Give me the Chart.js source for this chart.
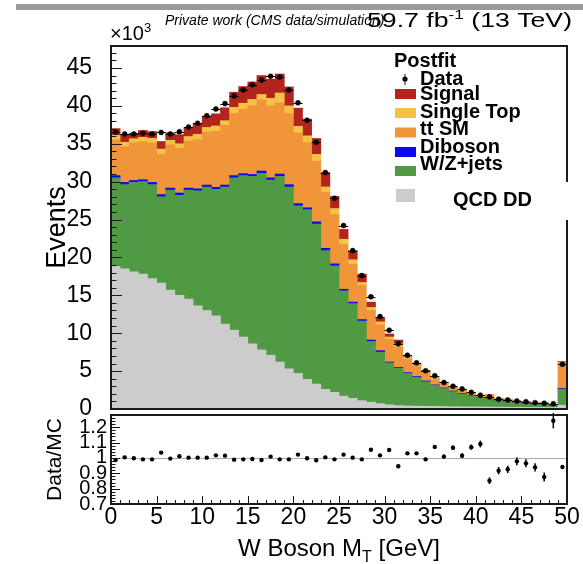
<!DOCTYPE html>
<html>
<head>
<meta charset="utf-8">
<script src="https://cdn.jsdelivr.net/npm/chart.js@4.4.1/dist/chart.umd.min.js"></script>
<style>
  body { margin: 0; background: #fff; }
  #wrap { position: relative; width: 583px; height: 564px; overflow: hidden; background: #fff; }
  #topbar { position: absolute; left: 16px; top: 4px; width: 567px; height: 6px; background: #9a9a9a; }
  #mainCanvas { position: absolute; left: 0; top: 0; }
  #ratioCanvas { position: absolute; left: 0; top: 411px; }
</style>
</head>
<body>
<div id="wrap">
  <div id="topbar"></div>
  <canvas id="mainCanvas" width="583" height="430"></canvas>
  <canvas id="ratioCanvas" width="583" height="153"></canvas>
</div>
<script>
// bins of W boson MT (GeV), last one is the overflow bin
const bins = [0,1,2,3,4,5,6,7,8,9,10,11,12,13,14,15,16,17,18,19,20,21,22,23,24,
              25,26,27,28,29,30,31,32,33,34,35,36,37,38,39,40,41,42,43,44,45,46,47,48,49];

// stacked backgrounds, in thousands of events
const qcd = [18.8,18.5,18.1,17.8,17.2,16.6,15.7,15.0,14.5,13.6,13.0,12.3,11.2,10.4,9.5,8.6,7.8,7.1,6.2,5.3,
             4.7,3.9,3.3,2.6,2.2,1.7,1.4,1.1,0.9,0.7,0.55,0.45,0.4,0.38,0.36,0.34,0.32,0.3,0.3,0.28,
             0.27,0.26,0.25,0.24,0.23,0.22,0.21,0.2,0.2,0.5];
const wzjets = [11.7,11.1,11.8,12.2,12.4,11.4,13.2,13.2,14.4,15.2,16.3,16.7,18.1,20.1,21.3,22.1,23.3,23.1,24.5,24.0,
                22.1,22.4,21.1,18.3,16.7,13.9,12.5,10.5,8.0,6.8,5.55,4.95,4.3,3.82,3.24,2.76,2.38,2.0,1.7,1.42,
                1.18,0.99,0.8,0.66,0.55,0.46,0.37,0.3,0.22,2.1];
const diboson = [0.3,0.3,0.25,0.25,0.3,0.3,0.25,0.3,0.25,0.25,0.25,0.25,0.25,0.3,0.25,0.25,0.3,0.3,0.3,0.3,
                 0.3,0.25,0.3,0.3,0.25,0.2,0.2,0.2,0.2,0.2,0.1,0.1,0.1,0.1,0.1,0.08,0.08,0.07,0.07,0.06,
                 0.05,0.05,0.05,0.04,0.04,0.04,0.04,0.04,0.03,0.1];
const ttbar = [4.7,4.7,5.0,5.0,5.2,5.3,5.7,5.9,6.2,6.5,7.0,7.4,7.9,8.2,8.5,9.1,9.4,9.5,9.4,9.4,
               9.3,8.6,8.0,7.4,6.5,5.9,5.0,4.5,3.9,3.4,3.0,2.7,1.8,1.4,1.15,0.75,0.55,0.35,0.45,0.24,
               0.14,0.5,0.27,0.32,0.22,0.25,0.24,0.29,0.09,3.4];
const singleTop = [0.6,0.6,0.5,0.6,0.6,0.7,0.6,0.6,0.6,0.7,0.6,0.7,0.6,0.8,0.8,0.8,0.7,1.0,1.3,1.0,
                   0.9,0.9,0.9,0.7,0.8,0.7,0.6,0.4,0.4,0.4,0.3,0.4,0.2,0.15,0.15,0.1,0.08,0.05,0.05,0.03,
                   0.02,0.05,0.03,0.03,0.02,0.02,0.02,0.02,0.01,0.1];
const signal = [0.9,0.95,0.75,0.9,0.9,1.0,1.0,1.2,1.2,1.4,1.5,1.6,1.7,2.0,2.2,2.3,2.5,2.5,2.5,2.5,
                2.4,2.2,2.1,1.9,1.6,1.3,1.2,1.1,0.7,0.5,0.4,0.5,0.1,0.1,0.1,0.07,0.06,0.04,0.04,0.03,
                0.02,0.03,0.02,0.01,0.01,0.01,0.01,0.01,0.01,0.07];
const data = [36.55,36.3,36.3,36.4,36.3,36.5,36.3,36.6,37.2,37.7,38.7,39.6,40.3,41.3,42.1,42.8,43.4,43.9,43.8,42.1,
              40.4,38.1,35.2,31.2,27.8,24.2,20.9,17.6,14.8,12.2,10.4,8.6,7.1,6.1,5.05,4.4,3.5,3.0,2.65,2.2,
              1.83,1.6,1.3,1.2,1.05,0.96,0.84,0.75,0.70,5.9];

// lower panel
const ratio = [0.987,1.004,0.998,0.991,0.991,1.035,0.996,1.011,1.002,1.002,1.002,1.017,1.015,0.989,0.991,0.993,0.987,1.009,0.991,0.991,
               1.022,0.998,0.985,1.004,0.991,1.022,1.002,0.991,1.054,1.017,1.052,0.946,1.030,1.030,0.991,1.072,1.009,1.067,1.015,1.070,
               1.091,0.852,0.917,0.926,0.978,0.965,0.939,0.876,1.243,0.941];
const ratioErr = [0.005,0.005,0.005,0.005,0.005,0.005,0.005,0.005,0.005,0.005,0.005,0.005,0.005,0.005,0.005,0.005,0.005,0.005,0.005,0.005,
                  0.005,0.005,0.005,0.005,0.005,0.005,0.005,0.005,0.008,0.008,0.009,0.009,0.01,0.01,0.011,0.012,0.013,0.014,0.015,0.017,
                  0.022,0.022,0.024,0.024,0.025,0.026,0.027,0.03,0.05,0.012];

const yTicks = [0,5,10,15,20,25,30,35,40,45];
const ratioTicks = [0.7,0.8,0.9,1,1.1,1.2];
const xTicks = [0,5,10,15,20,25,30,35,40,45,50];

const FONT = '"Liberation Sans", Arial, Helvetica, sans-serif';

function pts(arr) {
  return arr.map((v, i) => ({x: bins[i] + 0.5, y: v}));
}

function line(ctx, x1, y1, x2, y2) {
  ctx.beginPath();
  ctx.moveTo(x1, y1);
  ctx.lineTo(x2, y2);
  ctx.stroke();
}

function drawFrame(chart) {
  const {ctx, chartArea: a} = chart;
  ctx.save();
  ctx.strokeStyle = '#1a1a1a';
  ctx.lineWidth = 2;
  ctx.strokeRect(a.left, a.top, a.right - a.left, a.bottom - a.top);
  ctx.restore();
}

// text with a raised or lowered small part, like ROOT latex
function richText(ctx, parts, x, y, align, fitWidth) {
  let total = 0;
  parts.forEach(p => { ctx.font = p.font; total += ctx.measureText(p.t).width; });
  const sx = fitWidth ? fitWidth / total : 1;
  let cx = align === 'center' ? x - total / 2 : x;
  ctx.save();
  ctx.translate(cx, y);
  ctx.scale(sx, 1);
  let ox = 0;
  parts.forEach(p => {
    ctx.font = p.font;
    ctx.fillText(p.t, ox, p.dy || 0);
    ox += ctx.measureText(p.t).width;
  });
  ctx.restore();
}

const mainPlugin = {
  id: 'mainDeco',
  afterDatasetsDraw(chart) {
    const {ctx, scales: {x, y}} = chart;
    // horizontal bin-width bars on data points
    ctx.save();
    ctx.strokeStyle = '#000';
    ctx.lineWidth = 1;
    data.forEach((v, i) => {
      const py = Math.round(y.getPixelForValue(v)) + 0.5;
      line(ctx, x.getPixelForValue(bins[i]), py, x.getPixelForValue(bins[i] + 1), py);
    });
    ctx.restore();
  },
  afterDraw(chart) {
    const {ctx, chartArea: a, scales: {y}} = chart;
    drawFrame(chart);
    ctx.save();
    ctx.strokeStyle = '#1a1a1a';
    ctx.lineWidth = 1;
    for (let v = 0; v <= 47; v++) {
      const py = Math.round(y.getPixelForValue(v)) + 0.5;
      line(ctx, a.left, py, a.left + (v % 5 === 0 ? 11 : 5.5), py);
    }

    // header
    ctx.fillStyle = '#000';
    ctx.textBaseline = 'alphabetic';
    richText(ctx, [{t: '\u00d710', font: `20px ${FONT}`}, {t: '3', font: `13px ${FONT}`, dy: -8}], 110, 40);
    ctx.font = `italic 14px ${FONT}`;
    ctx.fillText('Private work (CMS data/simulation)', 165, 25);
    richText(ctx, [
      {t: '59.7 fb', font: `20px ${FONT}`},
      {t: '-1', font: `13px ${FONT}`, dy: -8},
      {t: ' (13 TeV)', font: `20px ${FONT}`}
    ], 367, 27, 'left', 205);

    // legend
    const ds = chart.data.datasets;
    ctx.font = `bold 20px ${FONT}`;
    ctx.fillText('Postfit', 394, 67);
    ctx.beginPath();
    ctx.arc(405, 79, 2.6, 0, Math.PI * 2);
    ctx.fill();
    line(ctx, 405, 74, 405, 85);
    ctx.fillText(ds[6].label, 420, 85);
    const textBase = [100, 117.5, 135, 152.5, 170];
    const boxTop = [89, 108, 127.5, 147, 166];
    [5, 4, 3, 2, 1].forEach((k, i) => {
      ctx.fillStyle = ds[k].backgroundColor;
      ctx.fillRect(395, boxTop[i], 21, 10);
      ctx.fillStyle = '#000';
      ctx.fillText(ds[k].label, 420, textBase[i]);
    });
    ctx.fillStyle = '#fff';
    ctx.fillRect(430, 182, 153, 38);
    ctx.fillStyle = ds[0].backgroundColor;
    ctx.fillRect(396, 189, 19, 13);
    ctx.fillStyle = '#000';
    ctx.fillText(ds[0].label, 453, 206);
    ctx.restore();
  }
};

new Chart(document.getElementById('mainCanvas'), {
  type: 'bar',
  data: {
    datasets: [
      {label: 'QCD DD', data: pts(qcd), backgroundColor: '#cccccc', order: 1},
      {label: 'W/Z+jets', data: pts(wzjets), backgroundColor: '#4f9a43', order: 1},
      {label: 'Diboson', data: pts(diboson), backgroundColor: '#0a0af0', order: 1},
      {label: 'tt SM', data: pts(ttbar), backgroundColor: '#f0953a', order: 1},
      {label: 'Single Top', data: pts(singleTop), backgroundColor: '#f4c244', order: 1},
      {label: 'Signal', data: pts(signal), backgroundColor: '#b2241c', order: 1},
      {type: 'line', label: 'Data', data: pts(data), stack: 'data', order: 0, showLine: false,
       pointRadius: 2.5, pointBorderWidth: 0.5, pointBackgroundColor: '#000', pointBorderColor: '#000'}
    ]
  },
  options: {
    responsive: false,
    animation: false,
    layout: {padding: {left: 0, right: 16, top: 46, bottom: 21}},
    datasets: {bar: {barPercentage: 1, categoryPercentage: 1, borderWidth: 0}},
    plugins: {legend: {display: false}, tooltip: {enabled: false}},
    scales: {
      x: {type: 'linear', min: 0, max: 50, offset: false, stacked: true, display: false},
      y: {
        stacked: true, min: 0, max: 47.9,
        afterFit: s => { s.width = 111; s.paddingTop = 0; s.paddingBottom = 0; },
        afterBuildTicks: s => { s.ticks = yTicks.map(v => ({value: v})); },
        ticks: {padding: 19, autoSkip: false, color: '#000', font: {family: FONT, size: 23}},
        grid: {display: false, drawTicks: false},
        border: {display: false},
        title: {display: true, text: 'Events', color: '#000', font: {family: FONT, size: 27}, padding: {top: 41, bottom: 0}}
      }
    }
  },
  plugins: [mainPlugin]
});

const ratioPlugin = {
  id: 'ratioDeco',
  beforeDatasetsDraw(chart) {
    const {ctx, chartArea: a, scales: {y}} = chart;
    ctx.save();
    ctx.strokeStyle = '#aaaaaa';
    ctx.lineWidth = 1;
    const py = Math.round(y.getPixelForValue(1)) + 0.5;
    line(ctx, a.left, py, a.right, py);
    ctx.restore();
  },
  afterDatasetsDraw(chart) {
    const {ctx, scales: {x, y}} = chart;
    ctx.save();
    ctx.strokeStyle = '#000';
    ctx.lineWidth = 1.5;
    ratio.forEach((r, i) => {
      const px = x.getPixelForValue(bins[i] + 0.5);
      line(ctx, px, y.getPixelForValue(r - ratioErr[i]), px, y.getPixelForValue(r + ratioErr[i]));
    });
    ctx.restore();
  },
  afterDraw(chart) {
    const {ctx, chartArea: a, scales: {x, y}} = chart;
    drawFrame(chart);
    ctx.save();
    ctx.strokeStyle = '#1a1a1a';
    ctx.lineWidth = 1;
    for (let v = 0; v <= 50; v++) {
      const px = Math.round(x.getPixelForValue(v)) + 0.5;
      line(ctx, px, a.bottom, px, a.bottom - (v % 5 === 0 ? 8 : 4));
    }
    for (let k = 35; k <= 64; k++) {
      const py = Math.round(y.getPixelForValue(k * 0.02)) + 0.5;
      line(ctx, a.left, py, a.left + (k % 5 === 0 ? 9 : 4.5), py);
    }
    ctx.fillStyle = '#000';
    ctx.textBaseline = 'alphabetic';
    richText(ctx, [
      {t: 'W Boson M', font: `24px ${FONT}`},
      {t: 'T', font: `16px ${FONT}`, dy: 6},
      {t: ' [GeV]', font: `24px ${FONT}`}
    ], (a.left + a.right) / 2, 145, 'center');
    ctx.restore();
  }
};

new Chart(document.getElementById('ratioCanvas'), {
  type: 'scatter',
  data: {
    datasets: [{label: 'Data/MC', data: pts(ratio), pointRadius: 2.2, pointBorderWidth: 0,
                pointBackgroundColor: '#000', pointBorderColor: '#000'}]
  },
  options: {
    responsive: false,
    animation: false,
    layout: {padding: {left: 0, right: 16, top: 4, bottom: 0}},
    plugins: {legend: {display: false}, tooltip: {enabled: false}},
    scales: {
      x: {
        type: 'linear', min: 0, max: 50, offset: false,
        afterFit: s => { s.height = 60; s.paddingLeft = 0; s.paddingRight = 0; },
        afterBuildTicks: s => { s.ticks = xTicks.map(v => ({value: v})); },
        ticks: {padding: 0, maxRotation: 0, autoSkip: false, color: '#000', font: {family: FONT, size: 23}},
        grid: {display: false, drawTicks: false},
        border: {display: false}
      },
      y: {
        min: 0.7, max: 1.28,
        afterFit: s => { s.width = 111; s.paddingTop = 0; s.paddingBottom = 0; },
        afterBuildTicks: s => { s.ticks = ratioTicks.map(v => ({value: v})); },
        ticks: {padding: 4, autoSkip: false, color: '#000', font: {family: FONT, size: 20, lineHeight: 0.8},
                callback: v => String(+v.toFixed(2))},
        grid: {display: false, drawTicks: false},
        border: {display: false},
        title: {display: true, text: 'Data/MC', color: '#000', font: {family: FONT, size: 21}, padding: {top: 43, bottom: 0}}
      }
    }
  },
  plugins: [ratioPlugin]
});
</script>
</body>
</html>
